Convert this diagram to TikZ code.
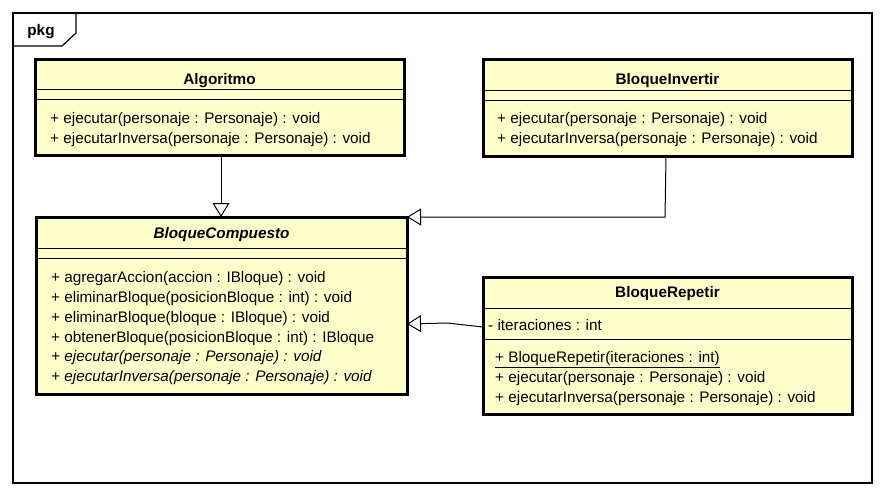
\documentclass[tikz,border=0pt]{standalone}
\usepackage{fontspec}
\setmainfont{Liberation Sans}
\usetikzlibrary{arrows.meta}
\definecolor{umlfill}{RGB}{255,255,204}
\begin{document}
\begin{tikzpicture}[x=1pt,y=-1pt,
  cls/.style={draw, line width=3pt, fill=umlfill, anchor=north west, inner sep=0pt, outer sep=0pt},
  sep/.style={line width=1pt},
  title/.style={font=\fontsize{15.3}{18}\selectfont\bfseries, inner sep=0pt, text height=11pt, text depth=3pt, yshift=-1.5pt},
  mem/.style={font=\fontsize{15.3}{18}\selectfont, anchor=west, inner sep=0pt, text height=11pt, text depth=3pt, yshift=-1.5pt},
  gen/.style={line width=1pt, -{Triangle[open, length=14pt, width=17pt, line width=1pt]}},
  framebox/.style={draw, line width=1.2pt, anchor=north west, inner sep=0pt, outer sep=0pt}]

\useasboundingbox (0,0) rectangle (885,497);

% package frame
\node[framebox, minimum width=859, minimum height=470] (pkg) at (13,13) {};
\draw[line width=1.2pt] (13,46) -- (62,46) -- (76,33) -- (76,13);
\node[title, anchor=base, yshift=1.5pt] (pkglabel) at (41,36) {pkg};

% Algoritmo
\node[cls, minimum width=369, minimum height=96] (alg) at (35,60) {};
\draw[sep] (alg.west |- 0,90) -- (alg.east |- 0,90);
\draw[sep] (alg.west |- 0,100) -- (alg.east |- 0,100);
\node[title] (algT) at (alg.north |- 0,79) {Algoritmo};
\node[mem] (alg1) at (50,118) {+ ejecutar(personaje : Personaje) : void};
\node[mem] (alg2) at (50,138) {+ ejecutarInversa(personaje : Personaje) : void};

% BloqueInvertir
\node[cls, minimum width=369, minimum height=97] (inv) at (483,60) {};
\draw[sep] (inv.west |- 0,91) -- (inv.east |- 0,91);
\draw[sep] (inv.west |- 0,101) -- (inv.east |- 0,101);
\node[title] (invT) at (inv.north |- 0,79) {BloqueInvertir};
\node[mem] (inv1) at (497,118) {+ ejecutar(personaje : Personaje) : void};
\node[mem] (inv2) at (497,138) {+ ejecutarInversa(personaje : Personaje) : void};

% BloqueCompuesto
\node[cls, minimum width=371, minimum height=177] (comp) at (36,217) {};
\draw[sep] (comp.west |- 0,248) -- (comp.east |- 0,248);
\draw[sep] (comp.west |- 0,258) -- (comp.east |- 0,258);
\node[title, font=\fontsize{15.3}{18}\selectfont\bfseries\itshape] (compT) at (comp.north |- 0,233) {BloqueCompuesto};
\node[mem] (comp1) at (51,277) {+ agregarAccion(accion : IBloque) : void};
\node[mem] (comp2) at (51,297) {+ eliminarBloque(posicionBloque : int) : void};
\node[mem] (comp3) at (51,317) {+ eliminarBloque(bloque : IBloque) : void};
\node[mem] (comp4) at (51,337) {+ obtenerBloque(posicionBloque : int) : IBloque};
\node[mem, font=\fontsize{15.3}{18}\selectfont\itshape] (comp5) at (51,356) {+ ejecutar(personaje : Personaje) : void};
\node[mem, font=\fontsize{15.3}{18}\selectfont\itshape] (comp6) at (51,376) {+ ejecutarInversa(personaje : Personaje) : void};

% BloqueRepetir
\node[cls, minimum width=369, minimum height=137] (rep) at (483,277) {};
\draw[sep] (rep.west |- 0,308) -- (rep.east |- 0,308);
\draw[sep] (rep.west |- 0,339) -- (rep.east |- 0,339);
\node[title] (repT) at (rep.north |- 0,292) {BloqueRepetir};
\node[mem] (rep0) at (488,325) {- iteraciones : int};
\node[mem] (rep1) at (495,357) {\underline{+ BloqueRepetir(iteraciones : int)}};
\node[mem] (rep2) at (495,377) {+ ejecutar(personaje : Personaje) : void};
\node[mem] (rep3) at (495,397) {+ ejecutarInversa(personaje : Personaje) : void};

% generalizations
\draw[gen] (alg.south -| 221,0) -- (comp.north -| 221,0);
\draw[gen] (inv.south -| 666,0) -- (665,217) -- (comp.east |- 0,217);
\coordinate (bend) at (447,323);
\draw[gen] (rep.west |- 0,327) -- (bend) -- (comp.east |- 0,324);
\end{tikzpicture}
\end{document}
